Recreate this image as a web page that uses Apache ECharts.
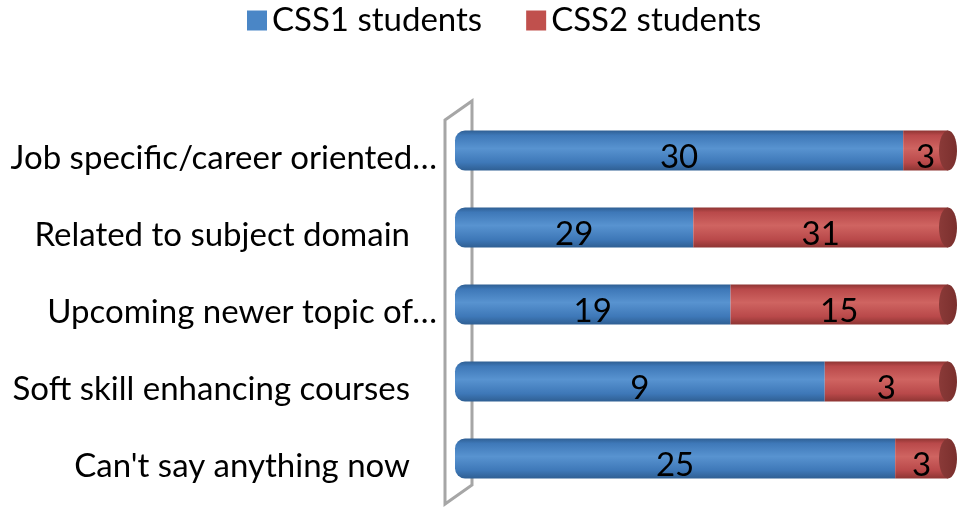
<!DOCTYPE html>
<html><head><meta charset="utf-8">
<script src="https://cdn.jsdelivr.net/npm/echarts@6/dist/echarts.min.js"></script>
<style>html,body{margin:0;padding:0;background:#fff}#c{width:975px;height:513px}</style>
</head><body><div id="c"></div>
<script>
const categories = ["Job specific/career oriented\u2026", "Related to subject domain", "Upcoming newer topic of\u2026", "Soft skill enhancing courses", "Can't say anything now"];
const truncated = [true, false, true, false, false];
const css1 = [30, 29, 19, 9, 25];
const css2 = [3, 31, 15, 3, 3];
const seriesNames = ["CSS1 students", "CSS2 students"];

const pct1 = css1.map((v, i) => v / (v + css2[i]) * 100);
const pct2 = css2.map((v, i) => v / (css1[i] + v) * 100);
const FONT = 'Lato';
const FS = 33;

function grad(dark, mid, light) {
  return new echarts.graphic.LinearGradient(0, 0, 0, 1, [
    {offset: 0, color: dark}, {offset: 0.12, color: mid}, {offset: 0.45, color: light},
    {offset: 0.8, color: mid}, {offset: 1, color: dark}
  ]);
}
const blueG = grad('#2f5f93', '#3e78b8', '#5893d0');
const redG = grad('#8e3533', '#b9494a', '#cf6461');

const chart = echarts.init(document.getElementById('c'));
const lbl = (raw) => ({show: true, position: 'inside', color: '#000', fontFamily: FONT, fontSize: FS, offset: [0, 7],
  formatter: p => raw[p.dataIndex]});
chart.setOption({
  animation: false,
  legend: {top: -1, left: 242, itemWidth: 20, itemHeight: 20, itemGap: 44, icon: 'rect',
    textStyle: {fontFamily: FONT, fontSize: FS, color: '#000'},
    data: [{name: seriesNames[0], itemStyle: {color: '#4a86c6'}}, {name: seriesNames[1], itemStyle: {color: '#c0504d'}}]},
  grid: {left: 455, right: 27, top: 112, bottom: 16, containLabel: false},
  xAxis: {type: 'value', min: 0, max: 100, show: false},
  yAxis: {type: 'category', inverse: true, data: categories,
    axisLine: {show: false}, axisTick: {show: false},
    axisLabel: {margin: 18, color: '#000', fontFamily: FONT, fontSize: FS,
      formatter: (v, i) => truncated[i] ? '{a|' + v + '}' : '{b|' + v + '}',
      rich: {a: {fontFamily: FONT, fontSize: FS, color: '#000', padding: [16, 0, 0, 0]},
             b: {fontFamily: FONT, fontSize: FS, color: '#000', padding: [16, 27, 0, 0]}}}},
  graphic: [{type: 'polygon', z: 0, shape: {points: [[445, 120], [472, 101], [472, 485], [445, 504]]},
    style: {fill: '#fff', stroke: '#a6a6a6', lineWidth: 3}}],
  series: [
    {name: seriesNames[0], type: 'bar', stack: 's', barWidth: 40, data: pct1,
      itemStyle: {color: blueG, borderRadius: [10, 0, 0, 10]}, label: lbl(css1)},
    {name: seriesNames[1], type: 'bar', stack: 's', barWidth: 40, data: pct2,
      itemStyle: {color: redG}, label: lbl(css2)},
    {type: 'custom', z: 3, data: categories.map((c, i) => [100, i]),
      renderItem: (params, api) => {
        const p = api.coord([api.value(0), api.value(1)]);
        return {type: 'ellipse', shape: {cx: p[0], cy: p[1], rx: 9, ry: 20},
          style: {fill: new echarts.graphic.LinearGradient(0, 0, 1, 0, [
            {offset: 0, color: '#8a3a38'}, {offset: 1, color: '#7a2f2d'}])}};
      }, silent: true}
  ]
});
</script></body></html>
